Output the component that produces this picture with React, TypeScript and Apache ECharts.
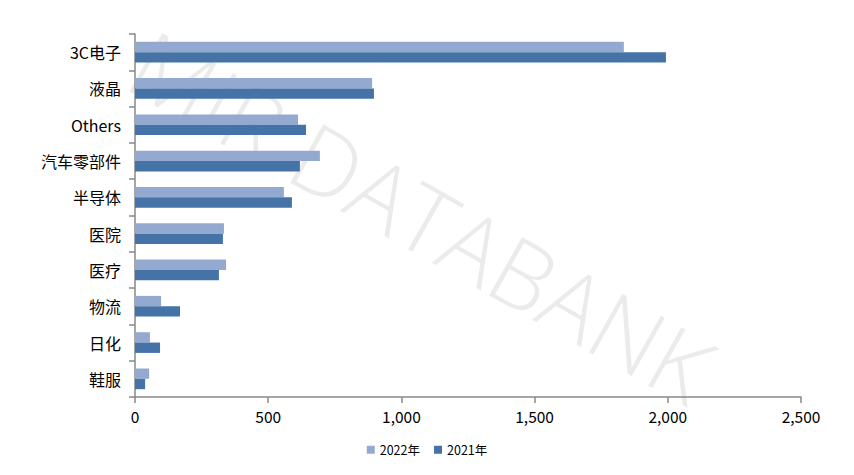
import React, { useEffect, useRef } from "react";
import * as echarts from "echarts";

const categories = ["3C电子", "液晶", "Others", "汽车零部件", "半导体", "医院", "医疗", "物流", "日化", "鞋服"];
const values2022 = [1835, 890, 612, 694, 559, 334, 342, 98, 56, 53];
const values2021 = [1993, 897, 642, 619, 589, 330, 315, 169, 94, 38];
const seriesNames = ["2022年", "2021年"];
const xTicks = [0, 500, 1000, 1500, 2000, 2500];

export default function App() {
  const ref = useRef<HTMLDivElement>(null);
  useEffect(() => {
    if (!ref.current) return;
    const chart = echarts.init(ref.current, undefined, { renderer: "svg" });
    const font = '"Noto Sans CJK SC", "Noto Sans", sans-serif';
    chart.setOption({
      animation: false,
      backgroundColor: "#ffffff",
      textStyle: { fontFamily: font },
      graphic: [
        {
          type: "text",
          x: 422,
          y: 216,
          rotation: -Math.PI / 6.1,
          z: 0,
          style: {
            text: "MIR DATABANK",
            fontSize: 94,
            fontFamily: '"Open Sans", "DejaVu Sans", sans-serif',
            fontWeight: 300,
            fill: "rgba(0,0,0,0.08)",
            align: "center",
            verticalAlign: "middle",
          },
        },
      ],
      legend: {
        bottom: 14,
        left: "center",
        itemWidth: 8,
        itemHeight: 8,
        itemGap: 14,
        icon: "rect",
        textStyle: { fontSize: 12.5, color: "#000", fontFamily: font },
        data: seriesNames,
      },
      grid: { left: 135, right: 53, top: 34, bottom: 78, containLabel: false },
      xAxis: {
        type: "value",
        min: 0,
        max: 2500,
        interval: 500,
        axisLine: { show: true, lineStyle: { color: "#888", width: 1.5 } },
        axisTick: { show: true, length: 6, lineStyle: { color: "#888", width: 1.5 } },
        splitLine: { show: false },
        axisLabel: {
          fontSize: 15.5,
          color: "#000",
          margin: 11,
          formatter: (v: number) => (xTicks.includes(v) ? v.toLocaleString("en-US") : ""),
        },
      },
      yAxis: {
        type: "category",
        inverse: true,
        data: categories,
        axisLine: { show: true, lineStyle: { color: "#888", width: 1.5 } },
        axisTick: { show: true, length: 6, lineStyle: { color: "#888", width: 1.5 } },
        axisLabel: { fontSize: 16, color: "#000", margin: 14 },
      },
      series: [
        {
          name: seriesNames[0],
          type: "bar",
          data: values2022,
          barGap: "0%",
          barCategoryGap: "43%",
          itemStyle: { color: "#94A9D0" },
        },
        {
          name: seriesNames[1],
          type: "bar",
          data: values2021,
          barGap: "0%",
          barCategoryGap: "43%",
          itemStyle: { color: "#4573A8" },
        },
      ],
    });
    return () => chart.dispose();
  }, []);
  return <div ref={ref} style={{ width: 854, height: 475, position: "absolute", left: 0, top: 0 }} />;
}
